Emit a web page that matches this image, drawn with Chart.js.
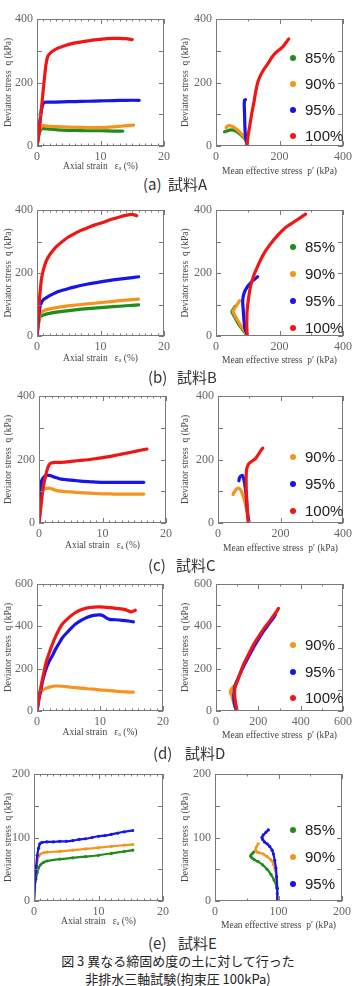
<!DOCTYPE html>
<html><head><meta charset="utf-8">
<script src="https://cdn.jsdelivr.net/npm/chart.js@4.4.0/dist/chart.umd.min.js"></script>
<style>
html,body{margin:0;padding:0;background:#fff;width:356px;height:986px;overflow:hidden;position:relative;}
canvas{position:absolute;}
.cap{position:absolute;font-family:"Noto Sans CJK JP","Noto Sans";color:#333;white-space:nowrap;line-height:1;}
</style></head><body>
<div id="root"></div>
<script>
// ---------- categories / ticks ----------
const LEVELS = ['85%','90%','95%','100%'];
const strainTicks = [0,10,20];
const p400Ticks = [0,200,400];
const p600Ticks = [0,200,400,600];
const p200Ticks = [0,100,200];
const q400Ticks = [0,200,400];
const q600Ticks = [0,200,400,600];
const q200Ticks = [0,100,200];

// ---------- (a) 試料A ----------
const A_ax_85  = [[0,0],[0.3,35],[0.6,52],[1,55],[2,53],[4,50],[6,49],[8,48],[10,48],[12,47],[13.5,47]];
const A_ax_90  = [[0,0],[0.1,20],[0.3,45],[0.6,60],[1,64],[2,62],[4,60],[6,59],[8,58],[10,58],[12,60],[13,62],[14,64],[15.2,66]];
const A_ax_95  = [[0,0],[0.3,50],[0.6,100],[0.9,130],[1.2,138],[2,138],[4,139],[6,140],[8,141],[10,142],[12,143],[14,144],[16.1,144]];
const A_ax_100 = [[0,0],[0.3,40],[0.6,100],[1.0,180],[1.4,255],[1.7,282],[2.2,295],[3,305],[4,313],[5,320],[6,325],[7,328],[8,331],[9,334],[10,336],[11,338],[12,339],[13,339],[14,338],[15,335]];
const A_p_85  = [[100,0],[93,20],[82,32],[70,42],[60,48],[51,51],[42,50],[34,47],[27,45]];
const A_p_90  = [[100,0],[93,24],[82,36],[70,48],[58,58],[48,63],[40,64],[34,61],[32,58]];
const A_p_95  = [[100,0],[96,15],[93,29],[91,60],[90,100],[89,130],[90,145],[93,146]];
const A_p_100 = [[97,0],[100,25],[104,50],[109,80],[114,110],[119,135],[124,165],[130,195],[137,215],[148,237],[164,260],[175,278],[186,292],[198,302],[210,312],[220,325],[229,337]];

// ---------- (b) 試料B ----------
const B_ax_85  = [[0,0],[0.2,35],[0.5,60],[1,67],[2,72],[4,78],[6,83],[8,87],[10,90],[12,93],[14,96],[16,99]];
const B_ax_90  = [[0,0],[0.2,40],[0.5,70],[1,80],[2,86],[4,93],[6,98],[8,102],[10,106],[12,110],[14,114],[16,117]];
const B_ax_95  = [[0,0],[0.2,50],[0.5,95],[0.8,110],[1.2,118],[2,128],[3,138],[4,145],[5,151],[6,156],[8,165],[10,172],[12,178],[14,183],[16,188]];
const B_ax_100 = [[0,0],[0.2,60],[0.4,120],[0.7,180],[1,210],[1.5,240],[2,258],[3,283],[4,300],[5,315],[6,326],[7,336],[8,344],[9,352],[10,358],[11,365],[12,372],[13,378],[14,383],[15,386],[15.7,382]];
const B_p_85  = [[97,0],[90,12],[80,25],[70,40],[60,58],[52,72],[50,78],[55,86],[60,94]];
const B_p_90  = [[98,0],[93,10],[80,30],[68,50],[58,68],[53,78],[60,90],[68,102],[74,112]];
const B_p_95  = [[100,0],[92,20],[88,50],[86,80],[84,110],[88,135],[98,155],[112,172],[125,183],[131,188]];
const B_p_100 = [[98,0],[97,40],[98,80],[102,115],[106,143],[112,170],[120,195],[135,230],[150,260],[170,290],[195,320],[220,345],[250,365],[282,387]];

// ---------- (c) 試料C ----------
const C_ax_90  = [[0,0],[0.3,80],[0.6,100],[1,108],[1.5,110],[2,108],[2.5,104],[3,101],[4,99],[5,98],[6,96],[8,94],[10,92],[12,91],[14,91],[16.5,91]];
const C_ax_95  = [[0,0],[0.2,70],[0.4,133],[0.8,145],[1.2,150],[1.6,150],[2,148],[2.5,144],[3,141],[3.5,138],[4,137],[5,135],[6,133],[7,131],[8,130],[10,128],[12,128],[14,128],[16.5,128]];
const C_ax_100 = [[0,0],[0.3,50],[0.6,105],[1,145],[1.4,175],[1.8,188],[2.5,191],[3,191],[4,192],[5,194],[6,196],[7,198],[8,200],[9,203],[10,206],[11,209],[12,213],[13,217],[14,221],[15,225],[16,229],[17,233]];
const C_p_90  = [[98,0],[95,20],[90,50],[85,70],[78,92],[72,105],[65,110],[58,106],[52,97],[48,90]];
const C_p_95  = [[100,0],[96,20],[93,50],[90,90],[86,120],[82,140],[78,150],[72,147],[68,140],[67,133]];
const C_p_100 = [[97,0],[94,40],[91,90],[90,130],[91,165],[95,180],[102,190],[112,197],[120,203],[127,213],[135,225],[143,236]];

// ---------- (d) 試料D ----------
const D_ax_90  = [[0,0],[0.2,50],[0.5,85],[1,100],[1.5,108],[2,113],[3,118],[4,117],[5,114],[6,110],[7,108],[8,105],[9,103],[10,100],[11,98],[12,95],[13,92],[14,90],[15.3,89]];
const D_ax_95  = [[0,0],[0.3,55],[0.6,100],[1,155],[1.5,205],[2,238],[2.5,265],[3,295],[3.5,320],[4,345],[5,378],[6,408],[7,428],[8,443],[9,452],[10,454],[10.5,450],[11,440],[11.5,433],[12,432],[13,430],[14,427],[15,423],[15.3,421]];
const D_ax_100 = [[0,0],[0.3,60],[0.6,110],[1,170],[1.5,235],[2,280],[2.5,320],[3,355],[3.5,385],[4,410],[5,440],[6,463],[7,478],[8,487],[9,491],[10,492],[11,490],[12,487],[13,484],[14,479],[15,468],[15.6,476]];
const D_p_90  = [[98,0],[90,20],[82,45],[75,70],[68,88],[70,100],[78,110],[85,118]];
const D_p_95  = [[100,0],[92,15],[85,50],[85,90],[90,120],[105,155],[120,190],[140,230],[160,268],[180,305],[200,338],[220,370],[240,398],[260,425],[275,445],[280,455]];
const D_p_100 = [[100,0],[92,40],[88,80],[90,110],[100,140],[115,180],[130,220],[150,260],[170,300],[190,335],[210,365],[230,395],[250,420],[270,448],[285,468],[295,485]];

// ---------- (e) 試料E ----------
const E_ax_85  = [[0,0],[0.1,22],[0.3,35],[0.5,45],[0.7,52],[1,57],[1.5,61],[2,63],[4,66],[6,68],[8,70],[10,72],[12,75],[14,78],[15.3,80]];
const E_ax_90  = [[0,0],[0.1,30],[0.3,50],[0.5,62],[0.7,70],[1,74],[1.5,76],[2,77],[4,78],[6,80],[8,82],[10,84],[12,86],[14,88],[15.3,89]];
const E_ax_95  = [[0,0],[0.2,35],[0.35,55],[0.5,72],[0.7,83],[0.9,90],[1.2,92],[2,93],[3,93],[4,94],[5,94],[6,95],[7,97],[8,98],[9,100],[10,102],[11,103],[12,105],[13,107],[14,109],[15.3,111]];
const E_p_85  = [[98,0],[98,12],[97,22],[93,33],[88,42],[82,50],[75,57],[68,62],[62,65],[58,68],[56,71],[58,74],[61,77]];
const E_p_90  = [[98,0],[98,20],[97,33],[95,48],[92,58],[88,65],[82,70],[76,74],[70,76],[66,77],[64,80],[65,85],[68,90]];
const E_p_95  = [[98,0],[98,20],[97,38],[96,52],[94,64],[92,74],[90,80],[86,86],[82,90],[78,93],[75,97],[74,100],[76,104],[80,108],[84,112]];

// ---------- styles ----------
const COLOR = {'85%':'#1e8c1e','90%':'#f5931d','95%':'#1616e8','100%':'#f01616'};
const ORDER = {'85%':3,'90%':2,'95%':1,'100%':0};

const T_STRAIN = 'Axial strain   \u03b5\u2090 (%)';
const T_P = 'Mean effective stress  p\u2032 (kPa)';
const T_Q = 'Deviator stress  q (kPa)';

const PANELS = [
 {cx:0,  rect:[37,19,164,146], xr:[0,20], yr:[0,400], xT:strainTicks, yT:q400Ticks, xMin:1, xMaj:10, yMin:100, xt:T_STRAIN, xOff:20, series:{'85%':A_ax_85,'90%':A_ax_90,'95%':A_ax_95,'100%':A_ax_100}},
 {cx:178,rect:[216,19,344,146], xr:[0,400], yr:[0,400], xT:p400Ticks, yT:q400Ticks, xMin:100, xMaj:200, yMin:100, xt:T_P, xOff:25, legend:[58,84,110,136], series:{'85%':A_p_85,'90%':A_p_90,'95%':A_p_95,'100%':A_p_100}},
 {cx:0,  rect:[37,210,164,336], xr:[0,20], yr:[0,400], xT:strainTicks, yT:q400Ticks, xMin:1, xMaj:10, yMin:100, xt:T_STRAIN, xOff:22, series:{'85%':B_ax_85,'90%':B_ax_90,'95%':B_ax_95,'100%':B_ax_100}},
 {cx:178,rect:[216,210,344,336], xr:[0,400], yr:[0,400], xT:p400Ticks, yT:q400Ticks, xMin:100, xMaj:200, yMin:100, xt:T_P, xOff:24, legend:[247,274,301,328], series:{'85%':B_p_85,'90%':B_p_90,'95%':B_p_95,'100%':B_p_100}},
 {cx:0,  rect:[39,396,166,523], xr:[0,20], yr:[0,400], xT:strainTicks, yT:q400Ticks, xMin:1, xMaj:10, yMin:100, xt:T_STRAIN, xOff:22, series:{'90%':C_ax_90,'95%':C_ax_95,'100%':C_ax_100}},
 {cx:178,rect:[218,396,344,523], xr:[0,400], yr:[0,400], xT:p400Ticks, yT:q400Ticks, xMin:100, xMaj:200, yMin:100, xt:T_P, xOff:25, legend:[457,484,511], series:{'90%':C_p_90,'95%':C_p_95,'100%':C_p_100}},
 {cx:0,  rect:[37,584,163,711], xr:[0,20], yr:[0,600], xT:strainTicks, yT:q600Ticks, xMin:1, xMaj:10, yMin:100, xt:T_STRAIN, xOff:21, series:{'90%':D_ax_90,'95%':D_ax_95,'100%':D_ax_100}},
 {cx:178,rect:[216,584,343,711], xr:[0,600], yr:[0,600], xT:p600Ticks, yT:q600Ticks, xMin:100, xMaj:200, yMin:100, xt:T_P, xOff:24, legend:[645,672,698], series:{'90%':D_p_90,'95%':D_p_95,'100%':D_p_100}},
 {cx:0,  rect:[34,774,163,901], xr:[0,20], yr:[0,200], xT:strainTicks, yT:q200Ticks, xMin:1, xMaj:10, yMin:50, xt:T_STRAIN, xOff:20, dots:true, series:{'85%':E_ax_85,'90%':E_ax_90,'95%':E_ax_95}},
 {cx:178,rect:[215,774,342,901], xr:[0,200], yr:[0,200], xT:p200Ticks, yT:q200Ticks, xMin:50, xMaj:100, yMin:50, xt:T_P, xOff:24, dots:true, legend:[830,857,884], series:{'85%':E_p_85,'90%':E_p_90,'95%':E_p_95}}
];

const isMult = (v, s) => Math.abs(v/s - Math.round(v/s)) < 1e-6;

const frameTicks = {
  id:'frameTicks',
  afterDatasetsDraw(chart){
    const cfg = chart.canvas._cfg; if(!cfg) return;
    const {ctx, chartArea:{left,top,right,bottom}, scales:{x,y}} = chart;
    ctx.save();
    ctx.strokeStyle = '#7a7a7a'; ctx.lineWidth = 1;
    ctx.strokeRect(left+0.5, top+0.5, right-left-1, bottom-top-1);
    ctx.beginPath();
    for(let v=x.min; v<=x.max+1e-9; v+=cfg.xMin){
      const px = Math.round(x.getPixelForValue(v))+0.5;
      const len = isMult(v,cfg.xMaj) ? 5 : 2.5;
      ctx.moveTo(px,bottom); ctx.lineTo(px,bottom-len);
      ctx.moveTo(px,top); ctx.lineTo(px,top+len);
    }
    for(let v=y.min; v<=y.max+1e-9; v+=cfg.yMin){
      const py = Math.round(y.getPixelForValue(v))+0.5;
      const len = 5;
      ctx.moveTo(left,py); ctx.lineTo(left+len,py);
      ctx.moveTo(right,py); ctx.lineTo(right-len,py);
    }
    ctx.stroke();
    ctx.restore();
  }
};
const inLegend = {
  id:'inLegend',
  afterDraw(chart){
    const cfg = chart.canvas._cfg; if(!cfg || !cfg.legend) return;
    const ctx = chart.ctx;
    const topPage = cfg.rect[1] - 12;
    ctx.save();
    chart.data.datasets.forEach((ds,i)=>{
      const yy = cfg.legend[i] - topPage;
      ctx.fillStyle = ds.borderColor;
      ctx.beginPath(); ctx.arc(293 - cfg.cx, yy, 3, 0, Math.PI*2); ctx.fill();
      ctx.fillStyle = '#1a1a1a';
      ctx.font = '15px "Liberation Sans", Arial, sans-serif';
      ctx.textBaseline = 'middle'; ctx.textAlign = 'left';
      ctx.fillText(ds.label, 305 - cfg.cx, yy + 0.5);
    });
    ctx.restore();
  }
};
Chart.register(frameTicks, inLegend);

const root = document.getElementById('root');
const TICK_FONT = {family:'"Liberation Serif", "DejaVu Serif", serif', size:12};
const TITLE_FONT = {family:'"Liberation Serif", "DejaVu Serif", serif', size:9.5, lineHeight:1.2};

PANELS.forEach(P=>{
  const [L,T,R,B] = P.rect;
  const padTop = 12;
  const xH = Math.round(P.xOff + 9.5*1.2/2);
  const W = 178, H = padTop + (B-T) + xH;
  const cv = document.createElement('canvas');
  cv.width = W; cv.height = H;
  cv.style.left = P.cx + 'px'; cv.style.top = (T - padTop) + 'px';
  cv.style.width = W + 'px'; cv.style.height = H + 'px';
  cv._cfg = P;
  root.appendChild(cv);
  const datasets = Object.keys(P.series).map(k=>({
    label:k,
    data:P.series[k].map(([a,b])=>({x:a,y:b})),
    showLine:true,
    borderColor:COLOR[k], backgroundColor:COLOR[k],
    borderWidth: P.dots ? 2.2 : 3.2,
    pointRadius: P.dots ? 1.6 : 0,
    pointBorderWidth:0,
    borderJoinStyle:'round', borderCapStyle:'round',
    tension:0.15,
    order:ORDER[k]
  }));
  const setTicks = arr => s => { s.ticks = arr.map(v=>({value:v})); };
  new Chart(cv, {
    type:'scatter',
    data:{datasets},
    options:{
      responsive:false, animation:false, devicePixelRatio:1,
      layout:{padding:{left:0, top:padTop, right:P.cx+178-R, bottom:0}},
      plugins:{legend:{display:false}, tooltip:{enabled:false}},
      scales:{
        x:{type:'linear', min:P.xr[0], max:P.xr[1],
           afterBuildTicks:setTicks(P.xT),
           afterFit:s=>{s.height = xH;},
           grid:{display:false, drawTicks:false}, border:{display:false},
           ticks:{font:TICK_FONT, color:'#666', padding:4, maxRotation:0, autoSkip:false},
           title:{display:true, text:P.xt, font:TITLE_FONT, color:'#444', padding:0}},
        y:{type:'linear', min:P.yr[0], max:P.yr[1],
           afterBuildTicks:setTicks(P.yT),
           afterFit:s=>{s.width = L - P.cx;},
           grid:{display:false, drawTicks:false}, border:{display:false},
           ticks:{font:TICK_FONT, color:'#666', padding:4, autoSkip:false},
           title:{display:true, text:T_Q, font:TITLE_FONT, color:'#444', padding:{top:P.cx?1.5:3, bottom:0}}}
      }
    }
  });
});

// captions
const CAPS = [
  ['(a)',143,184],['試料A',168,184],
  ['(b)',148,377],['試料B',177,377],
  ['(c)',148,565],['試料C',176,565],
  ['(d)',153,753],['試料D',185,753],
  ['(e)',148,943],['試料E',178,943]
];
CAPS.forEach(([t,x,y])=>{
  const d = document.createElement('div');
  d.className='cap'; d.textContent=t;
  d.style.left=x+'px'; d.style.top=(y-8)+'px'; d.style.fontSize='15px';
  root.appendChild(d);
});
[['図 3 異なる締固め度の土に対して行った',961],['非排水三軸試験(拘束圧 100kPa)',979]].forEach(([t,y])=>{
  const d = document.createElement('div');
  d.className='cap'; d.textContent=t;
  d.style.left='0px'; d.style.width='356px'; d.style.textAlign='center';
  d.style.top=(y-7)+'px'; d.style.fontSize='13px'; d.style.color='#222';
  root.appendChild(d);
});
</script>
</body></html>
